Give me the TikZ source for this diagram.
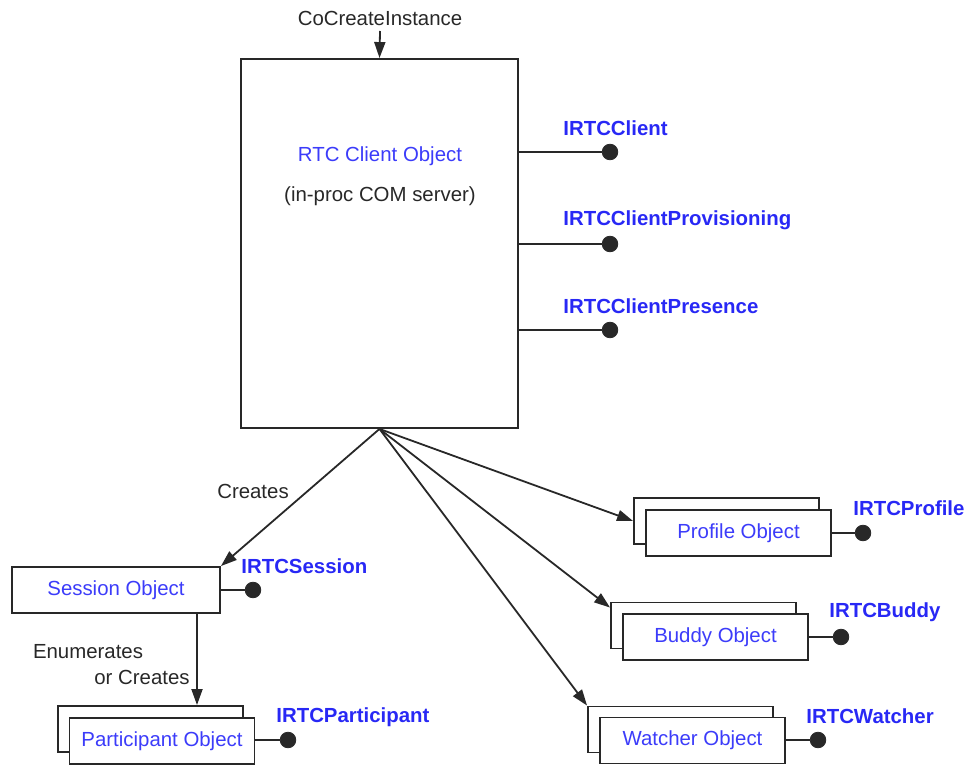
\documentclass[tikz,border=0pt]{standalone}
\usepackage{fontspec}
\setmainfont{Liberation Sans}
\usetikzlibrary{arrows.meta,calc}
\definecolor{ifblue}{RGB}{40,40,245}
\definecolor{objblue}{RGB}{60,60,250}
\definecolor{ink}{RGB}{40,40,40}
\begin{document}
\begin{tikzpicture}[x=0.5pt,y=-0.5pt,
  every node/.style={font=\fontsize{10.2pt}{12pt}\selectfont, text=ink},
  obj/.style={draw=ink, line width=0.95pt, fill=white, inner sep=0pt, text=objblue},
  ifname/.style={text=ifblue, font=\fontsize{10.2pt}{12pt}\selectfont\bfseries, anchor=west, inner sep=0pt},
  plain/.style={inner sep=0pt},
  dot/.style={circle, fill=ink, draw=ink, minimum size=7.8pt, inner sep=0pt},
  link/.style={draw=ink, line width=0.9pt},
  arr/.style={link, -{Triangle[length=8pt,width=5.5pt]}}]
\useasboundingbox (0,0) rectangle (965,765);

% client object
\node[obj, minimum width=277*0.5pt, minimum height=369*0.5pt] (client) at (379.5,243.5) {};
\node[plain, text=objblue] (clientname) at (380,156) {RTC Client Object};
\node[plain] (clientsub) at (380,196) {(in-proc COM server)};
\node[plain] (cocreate) at (380,18) {CoCreateInstance};
\coordinate (cctail) at (380,31);
\draw[arr] (cctail) -- (client.north);

% client interfaces
\node[dot] (d1) at (610,152) {};
\node[dot] (d2) at (610,244) {};
\node[dot] (d3) at (610,330) {};
\draw[link] (client.east |- d1) -- (d1);
\draw[link] (client.east |- d2) -- (d2);
\draw[link] (client.east |- d3) -- (d3);
\node[ifname] (i1) at (563,128) {IRTCClient};
\node[ifname] (i2) at (563,220) {IRTCClientProvisioning};
\node[ifname] (i3) at (563,306) {IRTCClientPresence};

% session object
\node[obj, minimum width=208*0.5pt, minimum height=46*0.5pt] (session) at (116,590) {Session Object};
\node[dot] (dsession) at (253,590) {};
\draw[link] (session.east) -- (dsession);
\node[ifname] (isession) at (241,566) {IRTCSession};

% stacked objects
\node[obj, minimum width=185*0.5pt, minimum height=46*0.5pt] (partback) at (150.5,729) {};
\node[obj, minimum width=185*0.5pt, minimum height=46*0.5pt] (part) at (162,741) {Participant Object};
\node[dot] (dpart) at (288,740) {};
\draw[link] (part.east |- dpart) -- (dpart);
\node[ifname] (ipart) at (276,717) {IRTCParticipant};

\node[obj, minimum width=185*0.5pt, minimum height=46*0.5pt] (profback) at (726.5,521) {};
\node[obj, minimum width=185*0.5pt, minimum height=46*0.5pt] (prof) at (738.5,533) {Profile Object};
\node[dot] (dprof) at (863,533) {};
\draw[link] (prof.east |- dprof) -- (dprof);
\node[ifname] (iprof) at (853,508) {IRTCProfile};

\node[obj, minimum width=185*0.5pt, minimum height=46*0.5pt] (buddyback) at (703.5,625.5) {};
\node[obj, minimum width=185*0.5pt, minimum height=46*0.5pt] (buddy) at (715.5,637) {Buddy Object};
\node[dot] (dbuddy) at (841,637) {};
\draw[link] (buddy.east |- dbuddy) -- (dbuddy);
\node[ifname] (ibuddy) at (829,612) {IRTCBuddy};

\node[obj, minimum width=185*0.5pt, minimum height=46*0.5pt] (watchback) at (680.5,729.5) {};
\node[obj, minimum width=185*0.5pt, minimum height=46*0.5pt] (watch) at (692.5,740.5) {Watcher Object};
\node[dot] (dwatch) at (818,740) {};
\draw[link] (watch.east |- dwatch) -- (dwatch);
\node[ifname] (iwatch) at (806,716) {IRTCWatcher};

% creation arrows
\draw[arr] (client.south) -- (session.north east);
\draw[arr] (client.south) -- (profback.west);
\draw[arr] (client.south) -- ($(buddyback.north west)+(0,6)$);
\draw[arr] (client.south) -- (watchback.north west);
\node[plain] (creates) at (253,491) {Creates};

% session to participants
\coordinate (stail) at (197,613);
\draw[arr] (stail) -- (partback.north -| stail);
\node[plain] (enum1) at (88,652) {Enumerates};
\node[plain, anchor=east] (enum2) at (190,677) {or Creates};
\end{tikzpicture}
\end{document}
